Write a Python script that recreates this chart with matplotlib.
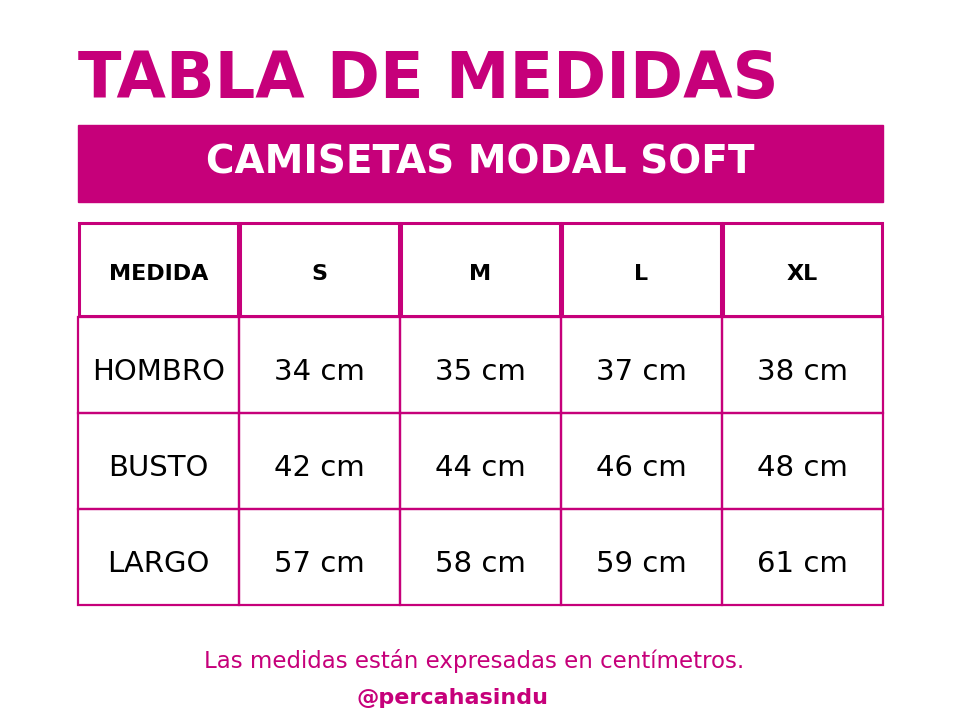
import matplotlib
matplotlib.use("Agg")
import matplotlib.pyplot as plt
from matplotlib.patches import Rectangle

title = "TABLA DE MEDIDAS"
subtitle = "CAMISETAS MODAL SOFT"
columns = ["MEDIDA", "S", "M", "L", "XL"]
rows = ["HOMBRO", "BUSTO", "LARGO"]
values = [[34, 35, 37, 38], [42, 44, 46, 48], [57, 58, 59, 61]]
note = "Las medidas están expresadas en centímetros."
handle = "@percahasindu"

MAG = "#C6007A"
fig = plt.figure(figsize=(9.6, 7.2), dpi=100)
ax = fig.add_axes([0, 0, 1, 1])
ax.set_xlim(0, 960); ax.set_ylim(720, 0); ax.axis("off")

ax.text(78, 98, title, color=MAG, fontsize=46, fontweight="bold", ha="left", va="baseline")
ax.add_patch(Rectangle((78, 125), 805, 77, color=MAG))
ax.text(480, 163, subtitle, color="white", fontsize=28, fontweight="bold", ha="center", va="center")

x0, w = 78, 161
hy, hh = 222, 95
for i, c in enumerate(columns):
    ax.add_patch(Rectangle((x0 + i*w + 1, hy + 1), w - 2, hh - 2, fill=False, ec=MAG, lw=2.2))
    ax.text(x0 + i*w + w/2, hy + hh/2 + 5, c, fontsize=16, fontweight="bold", ha="center", va="center")
rh = 96
for r, name in enumerate(rows):
    y = hy + hh + r*rh
    cells = [name] + [f"{v} cm" for v in values[r]]
    for i, t in enumerate(cells):
        ax.add_patch(Rectangle((x0 + i*w, y), w, rh, fill=False, ec=MAG, lw=1.6))
        ax.text(x0 + i*w + w/2, y + rh/2 + 7, t, fontsize=21, ha="center", va="center")

ax.text(474, 661, note, color=MAG, fontsize=16.5, ha="center", va="center")
ax.text(452, 698, handle, color=MAG, fontsize=16, fontweight="bold", ha="center", va="center")
fig.savefig("out.png", dpi=100)
